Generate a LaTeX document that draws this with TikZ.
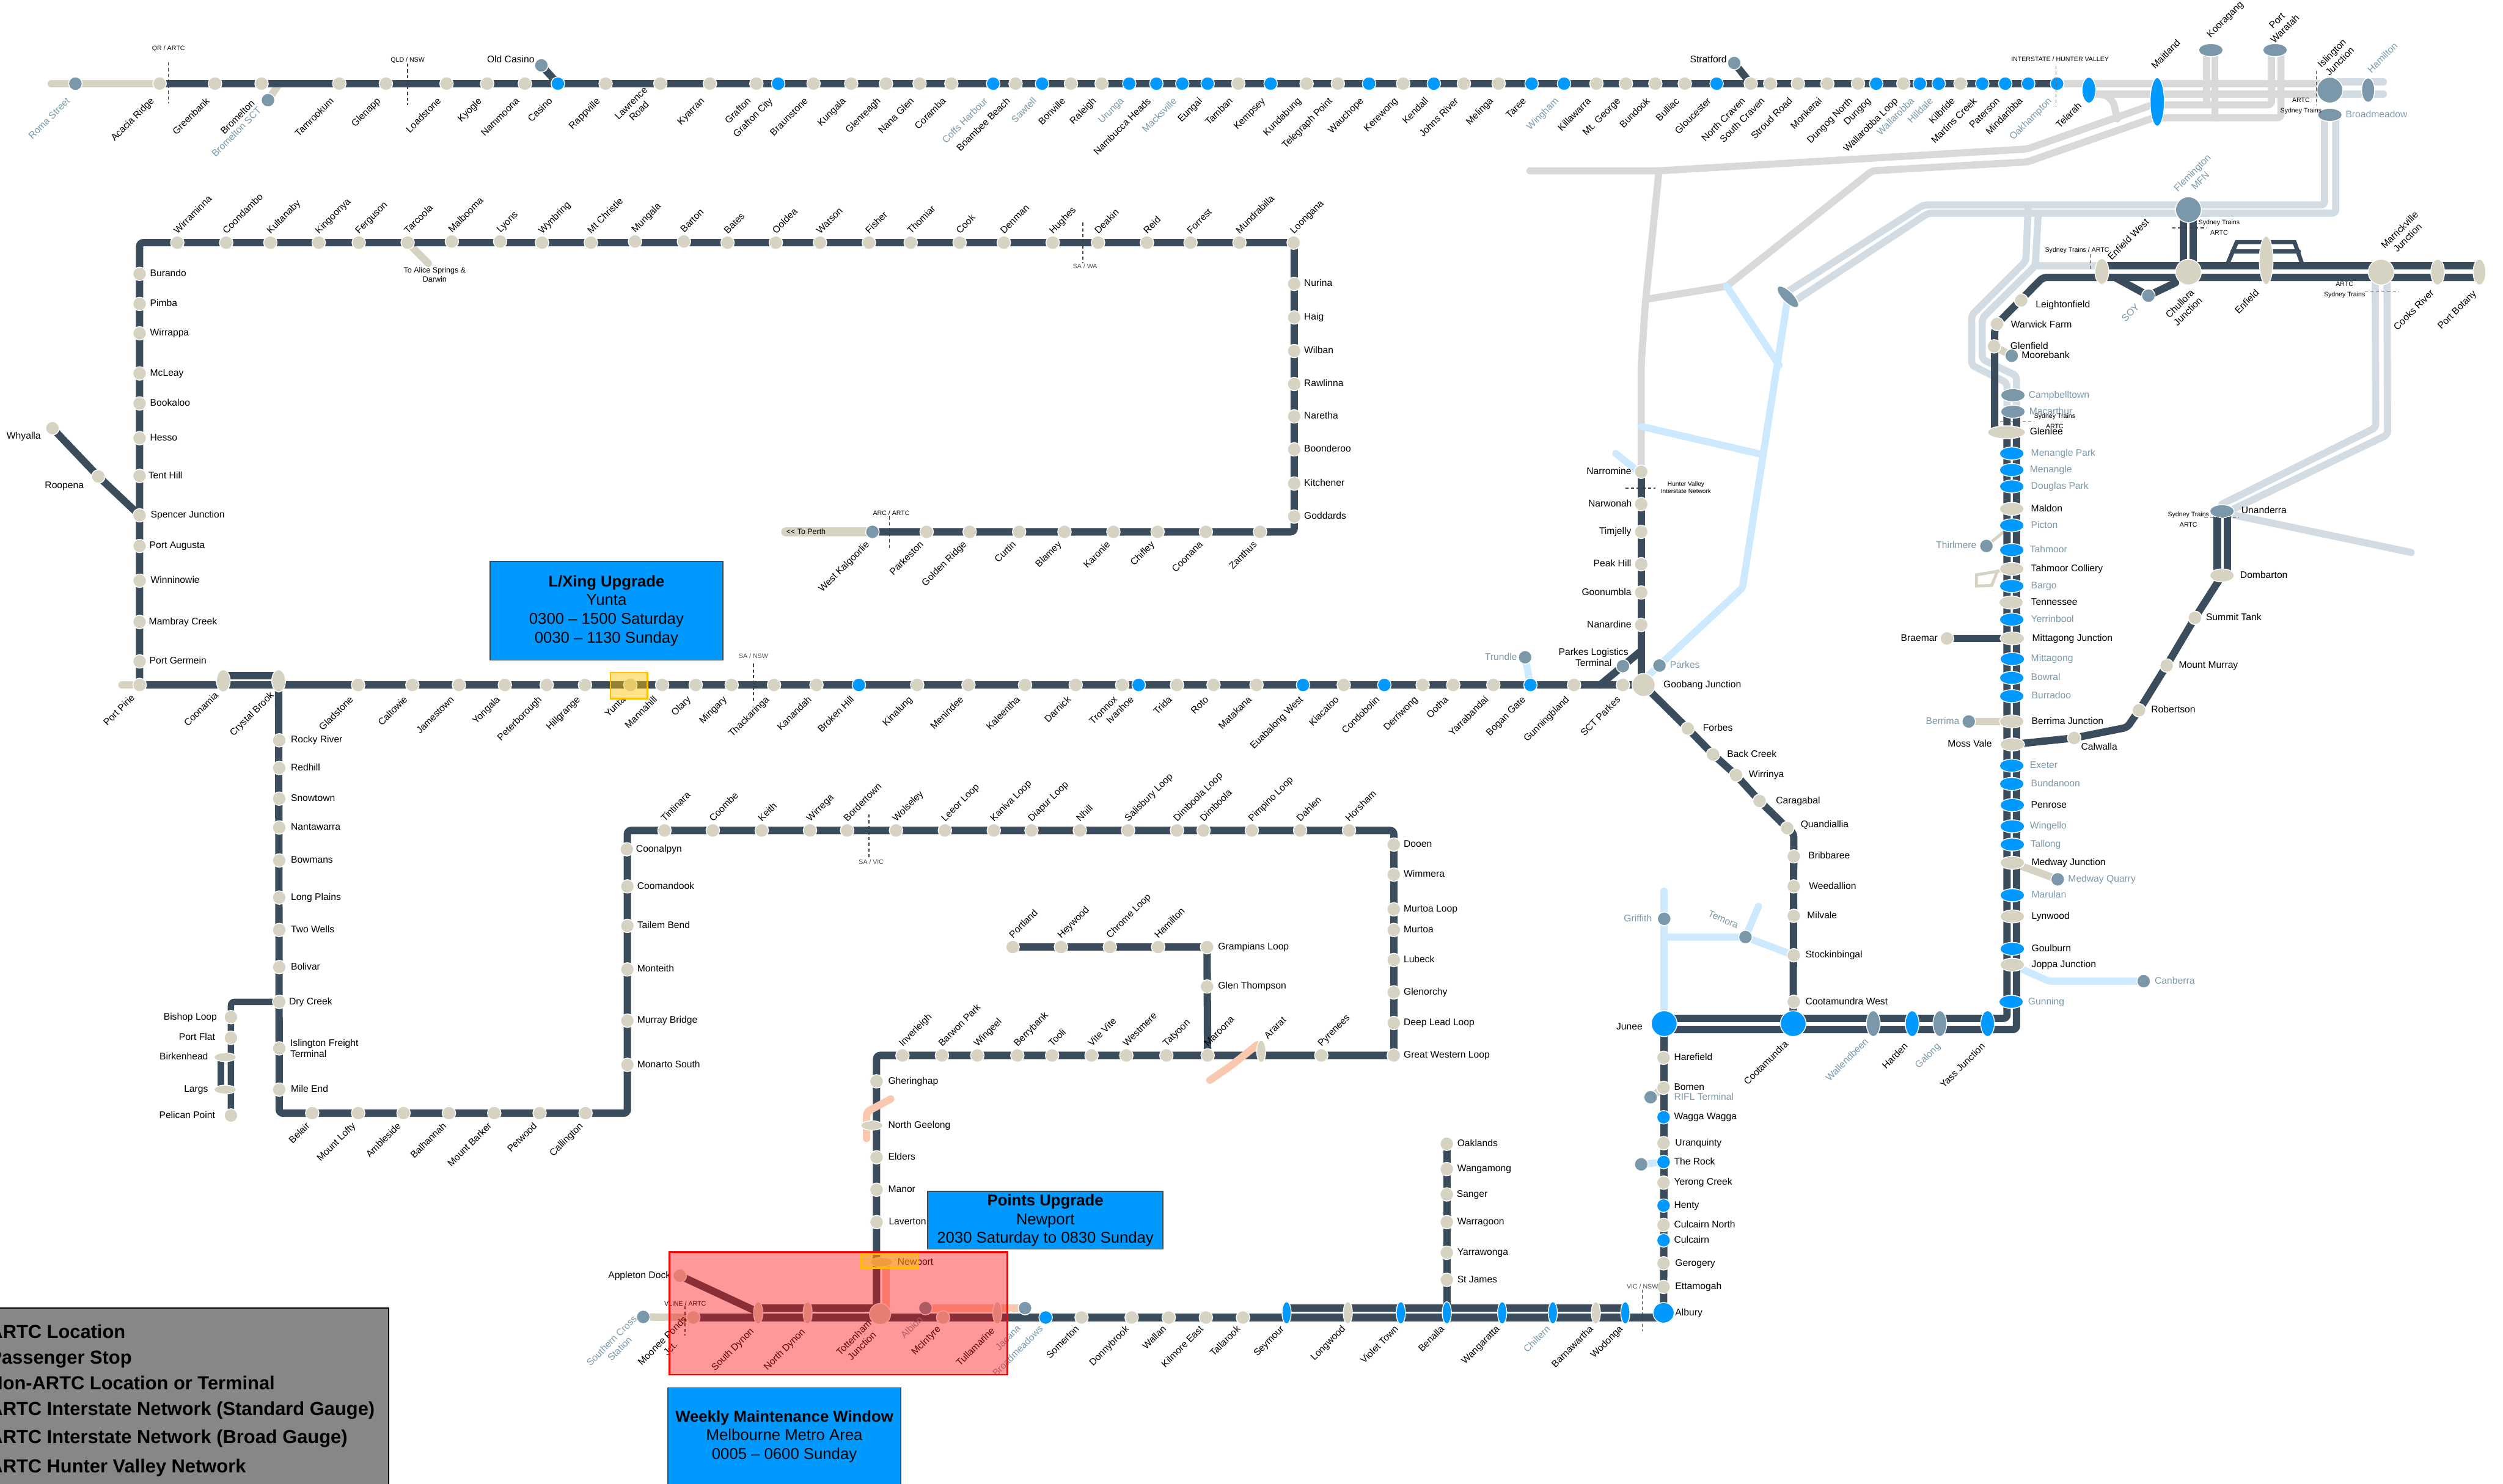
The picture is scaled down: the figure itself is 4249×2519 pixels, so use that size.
\documentclass[tikz,border=0pt]{standalone}
\usepackage{fontspec}
\setmainfont{Liberation Sans}
\usetikzlibrary{shapes.geometric,calc}
\definecolor{darkc}{HTML}{3B4D5C}
\definecolor{khaki}{HTML}{D6D3C2}
\definecolor{slatec}{HTML}{7A98AA}
\definecolor{bluec}{HTML}{0099FF}
\definecolor{palec}{HTML}{D3DCE3}
\definecolor{greyc}{HTML}{D9D9D9}
\definecolor{skyc}{HTML}{CCE9FF}
\definecolor{peach}{HTML}{F9C8AE}
\pgfdeclarelayer{tracks}
\pgfsetlayers{tracks,main}
\tikzset{
  st/.style={ellipse,draw=white,line width=.35pt,inner sep=0pt,minimum width=5.5pt,minimum height=5.5pt},
  kh/.style={fill=khaki}, bl/.style={fill=bluec}, sl/.style={fill=slatec},
  hz/.style={minimum width=10pt,minimum height=5.3pt},
  vt/.style={minimum width=5.6pt,minimum height=10.5pt},
  vn/.style={minimum width=3.7pt,minimum height=9.1pt},
  vm/.style={minimum width=5.6pt,minimum height=9.1pt},
  bg/.style={minimum width=10.5pt,minimum height=10.5pt},
  lab0/.style={inner sep=0pt,font=\fontsize{3.9}{4.6}\selectfont},
  lab/.style={lab0,text height=2.9pt,text depth=.8pt},
  labm/.style={lab0,align=center},
  lk/.style={text=black}, ls/.style={text=slatec},
  tiny/.style={inner sep=0pt,font=\fontsize{2.64}{3.2}\selectfont,align=center},
  trk/.style={draw=darkc,line width=3pt,rounded corners=1.5pt,line cap=round},
  gy/.style={draw=greyc,line width=2.9pt,rounded corners=1.5pt,line cap=round},
  pl/.style={draw=palec,line width=2.9pt,rounded corners=1.5pt,line cap=round},
  kk/.style={draw=khaki,line width=3pt,rounded corners=1.5pt,line cap=round},
  sk/.style={draw=skyc,line width=2.9pt,rounded corners=1pt,line cap=round},
  pc/.style={draw=peach,line width=3pt,rounded corners=1.5pt,line cap=round},
  bnd/.style={draw=black!75,line width=.35pt,dash pattern=on 1.3pt off 1pt},
  callout/.style={rectangle,fill=bluec,draw=darkc,line width=.4pt,inner sep=0pt,align=center,
     font=\fontsize{6.4}{7.68}\selectfont},
  legt/.style={inner sep=0pt,anchor=west,font=\fontsize{7.68}{9}\selectfont\bfseries},
}
\newcommand{\ldx}{-11}\newcommand{\ldy}{27}
\newcommand{\ndx}{-3}\newcommand{\ndy}{-17}
\newcommand{\stO}[4]{\node[st,#2] (#1) at (#3,#4) {};}
\newcommand{\stSW}[6][lk]{\node[st,#3] (#2) at (#4,#5) {};
  \node[lab,#1,rotate=45,anchor=east] (#2t) at (#4+\ldx,#5+\ldy) {#6};}
\newcommand{\stNE}[6][lk]{\node[st,#3] (#2) at (#4,#5) {};
  \node[lab,#1,rotate=45,anchor=west] (#2t) at (#4+\ndx,#5+\ndy) {#6};}
\newcommand{\stE}[7][lk]{\node[st,#3] (#2) at (#4,#5) {};
  \node[lab,#1,anchor=west] (#2t) at (#6,#5) {#7};}
\newcommand{\stW}[7][lk]{\node[st,#3] (#2) at (#4,#5) {};
  \node[lab,#1,anchor=east] (#2t) at (#6,#5) {#7};}
\begin{document}
\begin{tikzpicture}[x=0.24pt,y=-0.24pt]
\useasboundingbox (0,0) rectangle (4249,2519);

% ---------- Row 1: Brisbane to Hunter
\renewcommand{\ldx}{-11}\renewcommand{\ldy}{27}
\stSW[ls]{roma}{sl}{128}{142}{Roma Street}
\stSW{acacia}{kh}{271}{142}{Acacia Ridge}
\stSW{greenbank}{kh}{365}{142}{Greenbank}
\stSW[lk,xshift=-.5pt,yshift=-1pt]{bromelton}{kh}{444}{142}{Bromelton}
\stSW{tamrookum}{kh}{576}{142}{Tamrookum}
\stSW{glenapp}{kh}{655}{142}{Glenapp}
\stSW{loadstone}{kh}{758}{142}{Loadstone}
\stSW{kyogle}{kh}{827}{142}{Kyogle}
\stSW{nammoona}{kh}{891}{142}{Nammoona}
\stSW{casino}{bl}{947}{142}{Casino}
\stSW{rappville}{kh}{1028}{142}{Rappville}
\stO{lawrence}{kh}{1121}{142}
\node[labm,rotate=45] (lawrencet) at (1078,182) {Lawrence\\Road};
\stSW{kyarran}{kh}{1205}{142}{Kyarran}
\stSW{grafton}{kh}{1284}{142}{Grafton}
\stSW{graftonc}{bl}{1321}{142}{Grafton City}
\stSW{braunstone}{kh}{1381}{142}{Braunstone}
\stSW{kungala}{kh}{1445}{142}{Kungala}
\stSW{glenreagh}{kh}{1504}{142}{Glenreagh}
\stSW{nanaglen}{kh}{1561}{142}{Nana Glen}
\stSW{coramba}{kh}{1615}{142}{Coramba}
\stSW[ls]{coffs}{bl}{1686}{142}{Coffs Harbour}
\stSW{boambee}{kh}{1724}{142}{Boambee Beach}
\stSW[ls]{sawtell}{bl}{1769}{142}{Sawtell}
\stSW{bonville}{kh}{1818}{142}{Bonville}
\stSW{raleigh}{kh}{1870}{142}{Raleigh}
\stSW[ls]{urunga}{bl}{1917}{142}{Urunga}
\stSW{nambucca}{bl}{1963}{142}{Nambucca Heads}
\stSW[ls]{macksville}{bl}{2007}{142}{Macksville}
\stSW{eungai}{bl}{2050}{142}{Eungai}
\stSW{tamban}{kh}{2102}{142}{Tamban}
\stSW{kempsey}{bl}{2157}{142}{Kempsey}
\stSW{kundabung}{kh}{2218}{142}{Kundabung}
\stSW{telegraph}{kh}{2271}{142}{Telegraph Point}
\stSW{wauchope}{bl}{2324}{142}{Wauchope}
\stSW{kerewong}{kh}{2382}{142}{Kerewong}
\stSW{kendall}{bl}{2434}{142}{Kendall}
\stSW{johnsriver}{kh}{2485}{142}{Johns River}
\stSW{melinga}{kh}{2544}{142}{Melinga}
\stSW{taree}{bl}{2600}{142}{Taree}
\stSW[ls]{wingham}{bl}{2655}{142}{Wingham}
\stSW{killawarra}{kh}{2710}{142}{Killawarra}
\stSW{mtgeorge}{kh}{2760}{142}{Mt. George}
\stSW{bundook}{kh}{2810}{142}{Bundook}
\stSW{bulliac}{kh}{2860}{142}{Bulliac}
\stSW{gloucester}{bl}{2914}{142}{Gloucester}
\stSW{ncraven}{kh}{2972}{142}{North Craven}
\stSW{scraven}{kh}{3005}{142}{South Craven}
\stSW{stroud}{kh}{3052}{142}{Stroud Road}
\stSW{monkerai}{kh}{3102}{142}{Monkerai}
\stSW{dungogn}{kh}{3154}{142}{Dungog North}
\stSW{dungog}{bl}{3185}{142}{Dungog}
\stSW{wallaloop}{kh}{3231}{142}{Wallarobba Loop}
\stSW[ls]{wallarobba}{bl}{3259}{142}{Wallarobba}
\stSW[ls]{hilldale}{bl}{3291}{142}{Hilldale}
\stSW{kilbride}{kh}{3328}{142}{Kilbride}
\stSW{martins}{bl}{3365}{142}{Martins Creek}
\stSW{paterson}{bl}{3404}{142}{Paterson}
\stSW{mindaribba}{bl}{3443}{142}{Mindaribba}
\stSW[ls]{oakhampton}{bl}{3492}{142}{Oakhampton}
\stO{telarah}{bl,vt}{3546}{153}
\node[lab,rotate=45,anchor=east] (telaraht) at (3532,177) {Telarah};
\stO{maitland}{bl,minimum width=5.8pt,minimum height=19.8pt}{3662}{173}
\node[lab,rotate=45,anchor=west] (maitlandt) at (3655,115) {Maitland};
\stO{kooragang}{sl,hz}{3753}{85}
\node[lab,rotate=45,anchor=west] (kooragangt) at (3749,62) {Kooragang};
\stO{portwaratah}{sl,hz}{3862}{85}
\node[labm,rotate=45] (portwaratahtext) at (3872,42) {Port\\Waratah};
\stO{islington}{sl,bg}{3955}{153}
\node[labm,rotate=45] (islingtont) at (3965,97) {Islington\\Junction};
\stO{hamilton}{sl,minimum width=5.3pt,minimum height=10pt}{4020}{153}
\node[lab,ls,rotate=45,anchor=west] (hamiltont) at (4022,122) {Hamilton};
\stE[ls]{broadmeadow}{sl,hz}{3955}{195}{3981}{Broadmeadow}
\stO{oldcasino}{sl}{919}{111}
\node[lab,anchor=east] (oldcasinot) at (908,102) {Old Casino};
\stO{stratford}{sl}{2944}{107}
\node[lab,anchor=east] (stratfordt) at (2932,102) {Stratford};
\stO{bromsct}{sl}{455}{170}
\node[lab,ls,rotate=45,anchor=east] (bromsctt) at (442,185) {Bromelton SCT};

% ---------- Row 2: Trans-Australian
\renewcommand{\ndx}{-3}\renewcommand{\ndy}{-17}
\stNE{wirraminna}{kh}{301}{412}{Wirraminna}
\stNE{coondambo}{kh}{384}{412}{Coondambo}
\stNE{kultanaby}{kh}{459}{412}{Kultanaby}
\stNE{kingoonya}{kh}{541}{412}{Kingoonya}
\stNE{ferguson}{kh}{609}{412}{Ferguson}
\stNE{tarcoola}{kh}{692}{412}{Tarcoola}
\stNE{malbooma}{kh}{767}{410}{Malbooma}
\stNE{lyons}{kh}{849}{410}{Lyons}
\stNE{wynbring}{kh}{920}{412}{Wynbring}
\stNE{mtchristie}{kh}{1003}{412}{Mt Christie}
\stNE{mungala}{kh}{1078}{410}{Mungala}
\stNE{barton}{kh}{1161}{410}{Barton}
\stNE{bates}{kh}{1235}{412}{Bates}
\stNE{ooldea}{kh}{1317}{412}{Ooldea}
\stNE{watson}{kh}{1392}{412}{Watson}
\stNE{fisher}{kh}{1475}{412}{Fisher}
\stNE{thomiar}{kh}{1546}{412}{Thomiar}
\stNE{cook}{kh}{1629}{412}{Cook}
\stNE{denman}{kh}{1704}{412}{Denman}
\stNE{hughes}{kh}{1787}{412}{Hughes}
\stNE{deakin}{kh}{1864}{412}{Deakin}
\stNE{reid}{kh}{1947}{412}{Reid}
\stNE{forrest}{kh}{2021}{412}{Forrest}
\stNE{mundrabilla}{kh}{2104}{412}{Mundrabilla}
\stNE{loongana}{kh}{2196}{412}{Loongana}
\stE{nurina}{kh}{2197}{482}{2213}{Nurina}
\stE{haig}{kh}{2197}{539}{2213}{Haig}
\stE{wilban}{kh}{2197}{596}{2213}{Wilban}
\stE{rawlinna}{kh}{2197}{652}{2213}{Rawlinna}
\stE{naretha}{kh}{2197}{707}{2213}{Naretha}
\stE{boonderoo}{kh}{2197}{763}{2213}{Boonderoo}
\stE{kitchener}{kh}{2197}{821}{2213}{Kitchener}
\stE{goddards}{kh}{2197}{877}{2213}{Goddards}

% West Kalgoorlie row
\renewcommand{\ldx}{-7}\renewcommand{\ldy}{19}
\stSW{westkal}{sl}{1481}{903}{West Kalgoorlie}
\stSW{parkeston}{kh}{1573}{903}{Parkeston}
\stSW{goldenridge}{kh}{1646}{903}{Golden Ridge}
\stSW{curtin}{kh}{1730}{903}{Curtin}
\stSW{blamey}{kh}{1807}{903}{Blamey}
\stSW{karonie}{kh}{1890}{903}{Karonie}
\stSW{chifley}{kh}{1965}{903}{Chifley}
\stSW{coonana}{kh}{2047}{903}{Coonana}
\stSW{zanthus}{kh}{2139}{903}{Zanthus}
\coordinate (perthend) at (1334,903);
\node[lab0,anchor=west,font=\fontsize{3.1}{3.6}\selectfont] (tperth) at (1334,903) {{<}{<} To Perth};

% West column
\stE{burando}{kh}{237}{465}{254}{Burando}
\stE{pimba}{kh}{237}{516}{254}{Pimba}
\stE{wirrappa}{kh}{237}{566}{254}{Wirrappa}
\stE{mcleay}{kh}{237}{634}{254}{McLeay}
\stE{bookaloo}{kh}{237}{685}{254}{Bookaloo}
\stE{hesso}{kh}{237}{744}{254}{Hesso}
\stE{tenthill}{kh}{237}{808}{251}{Tent Hill}
\stE{spencer}{kh}{237}{875}{255}{Spencer Junction}
\stE{portaugusta}{kh}{237}{927}{253}{Port Augusta}
\stE{winninowie}{kh}{237}{986}{255}{Winninowie}
\stE{mambray}{kh}{237}{1056}{252}{Mambray Creek}
\stE{portgermein}{kh}{237}{1123}{253}{Port Germein}
\stO{whyalla}{kh}{89}{727}
\node[lab,anchor=east] (whyallat) at (70,741) {Whyalla};
\stO{roopena}{kh}{167}{809}
\node[lab,anchor=east] (roopenat) at (143,825) {Roopena};

% ---------- Main row y=1163
\renewcommand{\ldx}{-10}\renewcommand{\ldy}{22}
\stSW[lk,yshift=.7pt]{portpirie}{kh}{237}{1163}{Port Pirie}
\stSW{coonamia}{kh,vm}{379}{1156}{Coonamia}
\stSW{crystal}{kh,vm}{473}{1156}{Crystal Brook}
\stSW{gladstone}{kh}{608}{1163}{Gladstone}
\stSW{caltowie}{kh}{700}{1163}{Caltowie}
\stSW{jamestown}{kh}{779}{1163}{Jamestown}
\stSW{yongala}{kh}{857}{1163}{Yongala}
\stSW{peterborough}{kh}{928}{1163}{Peterborough}
\stSW{hillgrange}{kh}{993}{1163}{Hillgrange}
\stSW{yunta}{kh}{1070}{1163}{Yunta}
\stSW{mannahill}{kh}{1124}{1163}{Mannahill}
\stSW{olary}{kh}{1181}{1163}{Olary}
\stSW{mingary}{kh}{1242}{1163}{Mingary}
\stSW{thackaringa}{kh}{1314}{1163}{Thackaringa}
\stSW{kanandah}{kh}{1386}{1163}{Kanandah}
\stSW{brokenhill}{bl}{1458}{1163}{Broken Hill}
\stSW{kinalung}{kh}{1557}{1163}{Kinalung}
\stSW{menindee}{kh}{1644}{1163}{Menindee}
\stSW{kaleentha}{kh}{1740}{1163}{Kaleentha}
\stSW{darnick}{kh}{1826}{1163}{Darnick}
\stSW{tronnox}{kh}{1905}{1163}{Tronnox}
\stSW{ivanhoe}{bl}{1933}{1163}{Ivanhoe}
\stSW{trida}{kh}{1998}{1163}{Trida}
\stSW{roto}{kh}{2060}{1163}{Roto}
\stSW{matakana}{kh}{2133}{1163}{Matakana}
\stSW[lk,xshift=2pt]{euabalong}{bl}{2212}{1163}{Euabalong West}
\stSW{kiacatoo}{kh}{2281}{1163}{Kiacatoo}
\stSW{condobolin}{bl}{2350}{1163}{Condobolin}
\stSW{derriwong}{kh}{2415}{1163}{Derriwong}
\stSW{ootha}{kh}{2467}{1163}{Ootha}
\stSW{yarrabandai}{kh}{2535}{1163}{Yarrabandai}
\stSW{bogangate}{bl}{2598}{1163}{Bogan Gate}
\stSW{gunningbland}{kh}{2672}{1163}{Gunningbland}
\stSW[lk,xshift=1pt]{sctparkes}{kh}{2755}{1163}{SCT Parkes}
\stE{goobang}{kh,minimum width=9.4pt,minimum height=9.4pt}{2790}{1163}{2823}{Goobang Junction}
\stW{narromine}{kh}{2786}{801}{2770}{Narromine}
\stW{narwonah}{kh}{2786}{856}{2771}{Narwonah}
\stW{timjelly}{kh}{2786}{903}{2770}{Timjelly}
\stW{peakhill}{kh}{2786}{958}{2770}{Peak Hill}
\stW{goonumbla}{kh}{2786}{1006}{2770}{Goonumbla}
\stW{nanardine}{kh}{2786}{1061}{2770}{Nanardine}
\stO{parkeslog}{sl}{2755}{1131}
\node[labm] (parkeslogt) at (2705,1116) {Parkes Logistics\\Terminal};
\stW[ls]{trundle}{sl}{2589}{1116}{2576}{Trundle}
\stE[ls]{parkes}{sl}{2817}{1130}{2834}{Parkes}

% ---------- Goobang to Cootamundra
\stE{forbes}{kh}{2865}{1237}{2890}{Forbes}
\stE{backcreek}{kh}{2908}{1281}{2931}{Back Creek}
\stE{wirrinya}{kh}{2947}{1316}{2968}{Wirrinya}
\stE{caragabal}{kh}{2987}{1360}{3014}{Caragabal}
\stO{quandialla}{kh}{3034}{1406}
\node[lab,anchor=west] (quandiallat) at (3056,1401) {Quandiallia};
\stE{bribbaree}{kh}{3045}{1454}{3069}{Bribbaree}
\stE{weedallion}{kh}{3045}{1505}{3070}{Weedallion}
\stE{milvale}{kh}{3045}{1555}{3067}{Milvale}
\stE{stockinbingal}{kh}{3045}{1622}{3064}{Stockinbingal}
\stE{cootwest}{kh}{3045}{1701}{3064}{Cootamundra West}
\stO{cootamundra}{bl,bg}{3044}{1738}
\node[lab,rotate=45,anchor=east] (cootamundrat) at (3034,1770) {Cootamundra};
\stO{junee}{bl,bg}{2825}{1738}
\node[lab,anchor=east] (juneet) at (2789,1744) {Junee};
\stO{wallendbeen}{sl,vt}{3180}{1738}
\node[lab,ls,rotate=45,anchor=east] (wallendbeent) at (3170,1766) {Wallendbeen};
\stO{harden}{bl,vt}{3246}{1738}
\node[lab,rotate=45,anchor=east] (hardent) at (3237,1774) {Harden};
\stO{galong}{sl,vt}{3293}{1738}
\node[lab,ls,rotate=45,anchor=east] (galongt) at (3292,1774) {Galong};
\stO{yass}{bl,vt}{3374}{1738}
\node[lab,rotate=45,anchor=east] (yasst) at (3368,1774) {Yass Junction};
\stW[ls]{griffith}{sl}{2825}{1560}{2805}{Griffith}
\stO{temora}{sl}{2963}{1591}
\node[lab,ls,rotate=-24] (temorat) at (2925,1562) {Temora};
\coordinate (griffithtop) at (2825,1513);
\coordinate (griffithj) at (2825,1591);
\coordinate (temoratop) at (2985,1539);

% ---------- Southern main line to Albury
\stE{harefield}{kh}{2824}{1796}{2841}{Harefield}
\stE{bomen}{kh}{2824}{1847}{2841}{Bomen}
\stE[ls]{rifl}{sl}{2802}{1863}{2841}{RIFL Terminal}
\stE{wagga}{bl}{2824}{1897}{2841}{Wagga Wagga}
\stE{uranquinty}{kh}{2824}{1941}{2843}{Uranquinty}
\stE{therock}{bl}{2824}{1973}{2841}{The Rock}
\stE{yerong}{kh}{2824}{2008}{2841}{Yerong Creek}
\stE{henty}{bl}{2824}{2047}{2841}{Henty}
\stE{culcairnn}{kh}{2824}{2080}{2841}{Culcairn North}
\stE{culcairn}{bl}{2824}{2106}{2841}{Culcairn}
\stE{gerogery}{kh}{2824}{2145}{2843}{Gerogery}
\stE{ettamogah}{kh}{2824}{2185}{2843}{Ettamogah}
\stO{rockbranch}{sl}{2786}{1977}
\stE{albury}{bl,minimum width=8.6pt,minimum height=8.4pt}{2824}{2229}{2843}{Albury}

% ---------- Sydney south line
\stE[ls]{campbelltown}{sl,hz}{3417}{671}{3443}{Campbelltown}
\stE[ls]{macarthur}{sl,hz}{3417}{699}{3444}{Macarthur}
\stE{glenlee}{kh,minimum width=15.4pt,minimum height=5.3pt}{3406}{734}{3445}{Glenlee}
\stE[ls]{menanglep}{bl,hz}{3415}{770}{3447}{Menangle Park}
\stE[ls]{menangle}{bl,hz}{3415}{798}{3445}{Menangle}
\stE[ls]{douglas}{bl,hz}{3415}{826}{3447}{Douglas Park}
\stE{maldon}{kh,hz}{3415}{864}{3447}{Maldon}
\stE[ls]{picton}{bl,hz}{3415}{892}{3447}{Picton}
\stE[ls]{tahmoor}{bl,hz}{3415}{934}{3445}{Tahmoor}
\stE{tahmoorc}{kh,hz}{3415}{966}{3447}{Tahmoor Colliery}
\stE[ls]{bargo}{bl,hz}{3415}{995}{3447}{Bargo}
\stE{tennessee}{kh,hz}{3414}{1023}{3447}{Tennessee}
\stE[ls]{yerrinbool}{bl,hz}{3415}{1052}{3447}{Yerrinbool}
\stE{mittagongj}{kh,hz}{3416}{1084}{3449}{Mittagong Junction}
\stE[ls]{mittagong}{bl,hz}{3416}{1119}{3447}{Mittagong}
\stE[ls]{bowral}{bl,hz}{3415}{1151}{3447}{Bowral}
\stE[ls]{burradoo}{bl,hz}{3415}{1182}{3448}{Burradoo}
\stE{berrimaj}{kh,hz}{3415}{1225}{3448}{Berrima Junction}
\stW{mossvale}{kh,hz}{3416}{1264}{3382}{Moss Vale}
\stE[ls]{exeter}{bl,hz}{3415}{1300}{3445}{Exeter}
\stE[ls]{bundanoon}{bl,hz}{3415}{1331}{3447}{Bundanoon}
\stE{penrose}{bl,hz}{3416}{1367}{3447}{Penrose}
\stE[ls]{wingello}{bl,hz}{3416}{1403}{3445}{Wingello}
\stE[ls]{tallong}{bl,hz}{3416}{1434}{3446}{Tallong}
\stE{medway}{kh,hz}{3416}{1465}{3448}{Medway Junction}
\stE[ls]{marulan}{bl,hz}{3416}{1520}{3448}{Marulan}
\stE{lynwood}{kh,hz}{3416}{1556}{3448}{Lynwood}
\stE{goulburn}{bl,hz}{3416}{1611}{3448}{Goulburn}
\stE{joppa}{kh,hz}{3416}{1638}{3448}{Joppa Junction}
\stE[ls]{gunning}{bl,hz}{3414}{1701}{3442}{Gunning}
\stW[ls]{thirlmere}{sl}{3372}{927}{3356}{Thirlmere}
\stW{braemar}{kh}{3305}{1084}{3290}{Braemar}
\stW[ls]{berrima}{sl}{3342}{1225}{3327}{Berrima}
\stE[ls]{medwayq}{sl}{3493}{1493}{3510}{Medway Quarry}
\stE[ls]{canberra}{sl}{3639}{1666}{3657}{Canberra}
\coordinate (canb1) at (3478,1666);
\stO{calwalla}{kh}{3521}{1253}
\node[lab,anchor=west] (calwallat) at (3532,1269) {Calwalla};
\coordinate (calbend) at (3611,1235);
\stE{robertson}{kh}{3631}{1206}{3651}{Robertson}
\stE{mountmurray}{kh}{3678}{1130}{3698}{Mount Murray}
\stE{summit}{kh}{3726}{1049}{3744}{Summit Tank}
\stE{dombarton}{kh,hz}{3772}{977}{3802}{Dombarton}
\stE{unanderra}{sl,hz}{3772}{868}{3804}{Unanderra}

% ---------- Sydney metro
\stO{warwick}{kh}{3390}{550}
\node[lab,anchor=west] (warwickt) at (3413,552) {Warwick Farm};
\stO{leighton}{kh}{3431}{510}
\node[lab,anchor=west] (leightont) at (3455,518) {Leightonfield};
\stE{glenfield}{kh}{3385}{588}{3412}{Glenfield}
\stE{moorebank}{sl}{3415}{604}{3431}{Moorebank}
\stO{enfieldw}{kh,vt}{3568}{461}
\node[lab,rotate=45,anchor=west] (enfieldwt) at (3581,440) {Enfield West};
\stO{chullora}{kh,bg}{3715}{462}
\node[labm,rotate=45] (chullorat) at (3707,522) {Chullora\\Junction};
\stO{enfield}{kh,minimum width=5.6pt,minimum height=19.8pt}{3847}{442}
\node[lab,rotate=45,anchor=east] (enfieldt) at (3833,495) {Enfield};
\stO{marrick}{kh,bg}{4042}{462}
\node[labm,rotate=45] (marrickt) at (4080,397) {Marrickville\\Junction};
\stO{cooks}{kh,vt}{4138}{462}
\node[lab,rotate=45,anchor=east] (cookst) at (4130,495) {Cooks River};
\stO{botany}{kh,vt,minimum width=5.2pt}{4209}{462}
\node[lab,rotate=45,anchor=east] (botanyt) at (4202,496) {Port Botany};
\stO{soy}{sl}{3647}{502}
\node[lab,ls,rotate=45,anchor=east] (soyt) at (3630,519) {SOY};
\stO{flemington}{sl,bg}{3715}{356}
\node[labm,rotate=45,text=slatec] (flemingtont) at (3728,300) {Flemington\\MFN};
\node[st,sl,minimum width=4.5pt,minimum height=11.5pt,rotate=45] (hvend) at (3035,504) {};

% ---------- Row 3, Adelaide - Melbourne
\renewcommand{\ndx}{-3}\renewcommand{\ndy}{-17}
\stNE{tintinara}{kh}{1128}{1410}{Tintinara}
\stNE{coombe}{kh}{1210}{1410}{Coombe}
\stNE{keith}{kh}{1293}{1410}{Keith}
\stNE{wirrega}{kh}{1375}{1410}{Wirrega}
\stNE{bordertown}{kh}{1438}{1410}{Bordertown}
\stNE{wolseley}{kh}{1521}{1410}{Wolseley}
\stNE{leeor}{kh}{1604}{1410}{Leeor Loop}
\stNE{kaniva}{kh}{1687}{1410}{Kaniva Loop}
\stNE{diapur}{kh}{1751}{1410}{Diapur Loop}
\stNE{nhill}{kh}{1833}{1410}{Nhill}
\stNE{salisbury}{kh}{1915}{1410}{Salisbury Loop}
\stNE{dimboolal}{kh}{1998}{1410}{Dimboola Loop}
\stNE{dimboola}{kh}{2043}{1410}{Dimboola}
\stNE{pimpino}{kh}{2125}{1410}{Pimpino Loop}
\stNE{dahlen}{kh}{2207}{1410}{Dahlen}
\stNE{horsham}{kh}{2290}{1410}{Horsham}
\stE{coonalpyn}{kh}{1064}{1442}{1079}{Coonalpyn}
\stE{coomandook}{kh}{1065}{1505}{1081}{Coomandook}
\stE{tailem}{kh}{1065}{1572}{1081}{Tailem Bend}
\stE{monteith}{kh}{1065}{1646}{1081}{Monteith}
\stE{murray}{kh}{1065}{1733}{1081}{Murray Bridge}
\stE{monarto}{kh}{1065}{1808}{1081}{Monarto South}
\stE{dooen}{kh}{2366}{1434}{2382}{Dooen}
\stE{wimmera}{kh}{2366}{1485}{2382}{Wimmera}
\stE{murtoal}{kh}{2366}{1544}{2382}{Murtoa Loop}
\stE{murtoa}{kh}{2366}{1579}{2382}{Murtoa}
\stE{lubeck}{kh}{2366}{1630}{2382}{Lubeck}
\stE{glenorchy}{kh}{2366}{1685}{2382}{Glenorchy}
\stE{deeplead}{kh}{2366}{1737}{2382}{Deep Lead Loop}
\stE{greatwest}{kh}{2366}{1792}{2382}{Great Western Loop}
% Row 4
\stNE{inverleigh}{kh}{1532}{1792}{Inverleigh}
\stNE{barwon}{kh}{1599}{1792}{Barwon Park}
\stNE{wingeel}{kh}{1659}{1792}{Wingeel}
\stNE{berrybank}{kh}{1727}{1792}{Berrybank}
\stNE{tooli}{kh}{1786}{1792}{Tooli}
\stNE{vitevite}{kh}{1853}{1792}{Vite Vite}
\stNE{westmere}{kh}{1912}{1792}{Westmere}
\stNE{tatyoon}{kh}{1980}{1792}{Tatyoon}
\stNE{maroona}{kh}{2050}{1792}{Maroona}
\stO{ararat}{kh,vn}{2141}{1785}
\node[lab,rotate=45,anchor=west] (arararatt) at (2149,1762) {Ararat};
\stNE{pyrenees}{kh}{2243}{1792}{Pyrenees}
\stNE{portland}{kh}{1719}{1608}{Portland}
\stNE{heywood}{kh}{1801}{1608}{Heywood}
\stNE{chrome}{kh}{1884}{1608}{Chrome Loop}
\stNE{hamiltonv}{kh}{1966}{1608}{Hamilton}
\stE{grampians}{kh}{2049}{1608}{2067}{Grampians Loop}
\stE{glenthompson}{kh}{2049}{1675}{2067}{Glen Thompson}
\stE{gheringhap}{kh}{1488}{1836}{1507}{Gheringhap}
\stE{ngeelong}{kh,minimum width=9pt,minimum height=3.8pt}{1480}{1911}{1507}{North Geelong}
\stE{elders}{kh}{1488}{1965}{1507}{Elders}
\stE{manor}{kh}{1488}{2020}{1507}{Manor}
\stE{laverton}{kh}{1488}{2075}{1508}{Laverton}
\stE{newport}{kh,minimum width=9pt,minimum height=3.8pt}{1496}{2143}{1523}{Newport}

% South Australia south column
\stE{rocky}{kh}{474}{1257}{493}{Rocky River}
\stE{redhill}{kh}{474}{1304}{493}{Redhill}
\stE{snowtown}{kh}{474}{1356}{493}{Snowtown}
\stE{nantawarra}{kh}{474}{1405}{493}{Nantawarra}
\stE{bowmans}{kh}{474}{1461}{493}{Bowmans}
\stE{longplains}{kh}{474}{1524}{493}{Long Plains}
\stE{twowells}{kh}{474}{1579}{493}{Two Wells}
\stE{bolivar}{kh}{474}{1642}{493}{Bolivar}
\stE{drycreek}{kh}{474}{1701}{490}{Dry Creek}
\stO{islingtonf}{kh}{474}{1780}
\node[labm,align=left,anchor=west] (islingtonft) at (492,1780) {Islington Freight\\Terminal};
\stE{mileend}{kh}{474}{1850}{493}{Mile End}
\stW{bishop}{kh}{392}{1727}{369}{Bishop Loop}
\stW{portflat}{kh}{392}{1762}{366}{Port Flat}
\stW{birkenhead}{kh,minimum width=9pt,minimum height=3.6pt}{382}{1795}{354}{Birkenhead}
\stW{largs}{kh,minimum width=9pt,minimum height=3.6pt}{382}{1850}{354}{Largs}
\stW{pelican}{kh}{392}{1894}{366}{Pelican Point}
\renewcommand{\ldx}{-6}\renewcommand{\ldy}{19}
\stSW{belair}{kh}{530}{1890}{Belair}
\stSW{mountlofty}{kh}{608}{1890}{Mount Lofty}
\stSW{ambleside}{kh}{685}{1890}{Ambleside}
\stSW{balhannah}{kh}{762}{1890}{Balhannah}
\stSW{mountbarker}{kh}{839}{1890}{Mount Barker}
\stSW{petwood}{kh}{916}{1890}{Petwood}
\stSW{callington}{kh}{994}{1890}{Callington}

% ---------- Melbourne and NE Victoria
\renewcommand{\ldx}{-6}\renewcommand{\ldy}{17}
\stO{southerncross}{sl}{1092}{2236}
\node[labm,rotate=45,text=slatec] (southerncrosst) at (1045,2283) {Southern Cross\\Station};
\stO{moonee}{kh}{1177}{2237}
\node[labm,rotate=45] (mooneet) at (1131,2283) {Moonee Ponds\\Jct.};
\stW{appleton}{kh}{1154}{2166}{1139}{Appleton Dock}
\stO{sdynon}{kh,vn}{1287}{2229}
\node[lab,rotate=45,anchor=east] (sdynont) at (1278,2258) {South Dynon};
\stO{ndynon}{kh,vn}{1371}{2229}
\node[lab,rotate=45,anchor=east] (ndynont) at (1365,2259) {North Dynon};
\stO{tottenham}{kh,minimum width=8.6pt,minimum height=8.6pt}{1494}{2231}
\node[labm,rotate=45] (tottenhamt) at (1456,2278) {Tottenham\\Junction};
\stSW[ls]{albion}{sl}{1571}{2221}{Albion}
\stSW{mcintyre}{kh}{1601}{2237}{McIntyre}
\stO{tullamarine}{kh,vn}{1693}{2229}
\node[lab,rotate=45,anchor=east] (tullamarinet) at (1687,2257) {Tullamarine};
\stO{jacana}{sl}{1740}{2221}
\node[lab,ls,rotate=45,anchor=east] (jacanat) at (1731,2253) {Jacana};
\stSW[ls]{broadmeadows}{bl}{1775}{2237}{Broadmeadows}
\stSW{somerton}{kh}{1836}{2237}{Somerton}
\stSW{donnybrook}{kh}{1921}{2237}{Donnybrook}
\stSW{wallan}{kh}{1984}{2237}{Wallan}
\stSW{kilmore}{kh}{2047}{2237}{Kilmore East}
\stSW{tallarook}{kh}{2110}{2237}{Tallarook}
\renewcommand{\ldx}{-6}\renewcommand{\ldy}{25}
\stSW{seymour}{bl,vn}{2184}{2229}{Seymour}
\stSW{longwood}{kh,vn}{2288}{2229}{Longwood}
\stSW{violet}{bl,vn}{2378}{2229}{Violet Town}
\stSW{benalla}{bl,vn}{2456}{2229}{Benalla}
\stSW{wangaratta}{bl,vn}{2550}{2229}{Wangaratta}
\stSW[ls]{chiltern}{bl,vn}{2636}{2229}{Chiltern}
\stSW{barnawartha}{kh,vn}{2709}{2229}{Barnawartha}
\stSW{wodonga}{bl,vn}{2759}{2229}{Wodonga}
\stE{oaklands}{kh}{2456}{1942}{2473}{Oaklands}
\stE{wangamong}{kh}{2456}{1985}{2473}{Wangamong}
\stE{sanger}{kh}{2456}{2028}{2472}{Sanger}
\stE{warragoon}{kh}{2456}{2075}{2473}{Warragoon}
\stE{yarrawonga}{kh}{2456}{2127}{2473}{Yarrawonga}
\stE{stjames}{kh}{2456}{2173}{2473}{St James}

% ---------- Boundary marks
\node[tiny] (qrl) at (286,83) {QR / ARTC};
\node[tiny] (qldl) at (692,102) {QLD / NSW};
\node[tiny,text=black!70] (sawal) at (1842,452) {SA / WA};
\node[tiny] (arcl) at (1513,871) {ARC / ARTC};
\node[tiny,text=black!70] (sansw) at (1279,1114) {SA / NSW};
\node[tiny,text=black!70] (savic) at (1479,1463) {SA / VIC};
\node[tiny] (vlinel) at (1163,2213) {VLINE / ARTC};
\node[tiny,text=black!70] (vicnsw) at (2788,2184) {VIC / NSW};
\node[tiny] (ivhv) at (3497,100) {INTERSTATE / HUNTER VALLEY};
\node[tiny] (artcst) at (3906,180) {ARTC\\[1pt]Sydney Trains};
\node[tiny] (stflem) at (3767,386) {Sydney Trains\\[1pt]ARTC};
\node[tiny] (stenf) at (3526,425) {Sydney Trains / ARTC};
\node[tiny] (artcmar) at (3980,492) {ARTC\\[1pt]Sydney Trains};
\node[tiny] (stglen) at (3488,715) {Sydney Trains\\[1pt]ARTC};
\node[tiny] (stunan) at (3715,882) {Sydney Trains\\[1pt]ARTC};
\node[tiny,font=\fontsize{2.52}{3}\selectfont] (hvin) at (2862,828) {Hunter Valley\\Interstate Network};
\node[lab0,align=center,font=\fontsize{3.12}{3.84}\selectfont] (alice) at (738,466) {To Alice Springs \&\\Darwin};

% ---------- Tracks
\begin{pgfonlayer}{tracks}
% grey Hunter Valley
\draw[gy] (3492,142) -- (3955,142);
\draw[gy] (3546,160) -- (3955,160);
\draw[gy,rounded corners=5pt] (3570,160) -- (3585,160) -- (3594,202);
\draw[gy] (3662,178) -- (3856,178) -- (3856,90);
\draw[gy] (3662,200) -- (3872,200) -- (3872,90);
\draw[gy] (3746,90) -- (3746,178);
\draw[gy] (3760,90) -- (3760,200);
\draw[gy] (3662,175) -- (3441,253) -- (2816,290) -- (2597,290);
\draw[gy] (3662,198) -- (3441,275) -- (3178,290) -- (2931,486) -- (2795,508);
\draw[gy] (2816,292) -- (2793,515) -- (2786,620) -- (2786,801);
% pale network
\draw[pl] (3955,139) -- (4046,139);
\draw[pl] (3955,160) -- (4046,160);
\draw[pl] (3946,195) -- (3946,348) -- (3265,348) -- (3030,498);
\draw[pl] (3965,195) -- (3965,362) -- (3273,362) -- (3045,512);
\draw[pl] (3460,362) -- (3455,451) -- (3365,540) -- (3365,610) -- (3423,638) -- (3423,699);
\draw[pl] (3455,451) -- (3568,451);
\draw[pl] (3443,350) -- (3439,443) -- (3347,535) -- (3347,620) -- (3407,650) -- (3407,699);
\draw[pl] (4032,462) -- (4033,726) -- (3772,856);
\draw[pl] (4052,462) -- (4053,738) -- (3792,864);
\draw[pl] (3790,874) -- (4093,938);
% sky lines
\draw[sk] (2931,486) -- (3020,620);
\draw[sk] (3035,504) -- (2993,772) -- (2958,998) -- (2797,1148);
\draw[sk] (2786,724) -- (2993,772);
\draw[sk] (2743,770) -- (2786,805);
\draw[sk] (trundle.center) -- (bogangate.center);
\draw[sk] (griffithtop) -- (griffith.center) -- (griffithj) -- (junee.center);
\draw[sk] (griffithj) -- (temora.center) -- (stockinbingal.center);
\draw[sk] (temora.center) -- (temoratop);
\draw[sk] (rockbranch.center) -- (therock.center);
\draw[sk] (joppa.center) -- (canb1) -- (canberra.center);
% khaki branches
\coordinate (romaend) at (87,142);
\draw[kk] (romaend) -- (acacia.center);
\coordinate (bromfork) at (472,145);
\draw[kk] (bromfork) -- (bromsct.center);
\coordinate (pirieend) at (207,1163);
\draw[kk] (pirieend) -- (portpirie.center);
\coordinate (aliceend) at (727,447);
\draw[kk] (tarcoola.center) -- (aliceend);
\draw[kk,line width=3.8pt,line cap=round] (perthend) -- (westkal.center);
\draw[kk,line width=1.2pt] (thirlmere.center) -- (picton.center);
\draw[kk,line width=1.2pt,rounded corners=0pt,fill=none] (tahmoorc.center) -- (3355,976) -- (3355,995) -- (3381,994) -- (3391,969);
\draw[kk] (berrima.center) -- (berrimaj.center);
\draw[kk] (medway.center) -- (medwayq.center);
\draw[kk] (glenfield.center) -- (moorebank.center);
\draw[kk] (bomen.center) -- (rifl.center);
\draw[kk] (southerncross.center) -- (moonee.center);
% dark
\draw[trk] (acacia.center) -- (oakhampton.center);
\draw[trk] (casino.center) -- (oldcasino.center);
\draw[trk] (ncraven.center) -- (stratford.center);
\coordinate (nw1) at (237,412);
\coordinate (bl1) at (2197,412);
\draw[trk] (portpirie.center) -- (nw1) -- (loongana.center) -- (bl1) -- (2197,903) -- (westkal.center);
\draw[trk] (whyalla.center) -- (roopena.center) -- (spencer.center);
\draw[trk] (portpirie.center) -- (goobang.center);
\draw[trk] ($(coonamia.center)+(0,-9)$) -- ($(crystal.center)+(0,-9)$);
\draw[trk] (473,1163) -- (474,1890) -- (1065,1890) -- (1065,1410) -- (2366,1410) -- (2366,1792) -- (1488,1792) -- (1488,2229);
\draw[trk,line width=2.6pt] (drycreek.center) -- (392,1701) -- (pelican.center);
\draw[trk,line width=2.6pt] (375,1795) -- (375,1850);
\draw[trk] (portland.center) -- (grampians.center) -- (maroona.center);
\draw[trk] (moonee.center) -- (2759,2237) -- (2824,2237);
\draw[trk] (1287,2221) -- (1494,2221);
\draw[trk] (2184,2221) -- (2759,2221);
\draw[trk] (appleton.center) -- (1283,2226);
\draw[trk] (oaklands.center) -- (benalla.center);
\draw[trk] (junee.center) -- (albury.center);
\draw[trk] (narromine.center) -- (2786,1163);
\draw[trk] (2716,1163) -- (2786,1105);
\draw[trk] (goobang.center) -- (forbes.center) -- (backcreek.center) -- (wirrinya.center) -- (caragabal.center) -- (quandialla.center) -- (3045,1415) -- (cootamundra.center);
\draw[trk] (3407,699) -- (3407,1729) -- (2825,1729);
\draw[trk] (3423,699) -- (3423,1748) -- (2825,1748);
\draw[trk] (braemar.center) -- (mittagongj.center);
\draw[trk] (mossvale.center) -- (calwalla.center) -- (calbend) -- (robertson.center) -- (mountmurray.center) -- (summit.center) -- (dombarton.center);
\draw[trk] (3764,868) -- (3764,977);
\draw[trk] (3781,868) -- (3781,977);
\draw[trk] (3568,451) -- (4200,451);
\draw[trk] (4200,471) -- (3468,471) -- (warwick.center) -- (3386,560) -- (3386,734);
\draw[trk] (3590,471) -- (soy.center) -- (3693,480);
\draw[trk] (3706,375) -- (3706,462);
\draw[trk] (3723,375) -- (3723,462);
\draw[trk,line width=1.7pt,rounded corners=0pt] (3780,451) -- (3797,411) -- (3895,411) -- (3909,451);
\draw[trk,line width=1.9pt,rounded corners=0pt] (3790,427) -- (3902,427);
% peach
\draw[pc] (2134,1774) -- (2089,1810) -- (2054,1834);
\draw[pc] (1512,1866) -- (1471,1888) -- (1471,1933);
\draw[pc] (1504,2150) -- (1504,2225);
\draw[pc] (albion.center) -- (jacana.center);
\end{pgfonlayer}

% boundary dashes
\draw[bnd] (286,106) -- (286,175);
\draw[bnd] (692,108) -- (692,178);
\draw[bnd] (1838,378) -- (1838,447);
\draw[bnd] (1510,877) -- (1510,932);
\draw[bnd] (1279,1127) -- (1279,1192);
\draw[bnd] (1475,1383) -- (1475,1455);
\draw[bnd] (1163,2218) -- (1163,2268);
\draw[bnd] (2788,2190) -- (2788,2260);
\draw[bnd] (3490,112) -- (3490,181);
\draw[bnd] (3932,120) -- (3932,178);
\draw[bnd] (3688,387) -- (3746,387);
\draw[bnd] (3548,432) -- (3548,458);
\draw[bnd] (4014,494) -- (4072,494);
\draw[bnd] (3395,716) -- (3453,716);
\draw[bnd] (3742,878) -- (3800,878);
\draw[bnd] (2759,829) -- (2810,829);

% Callouts
\node[callout,minimum width=94.8pt,minimum height=40.3pt] (lxing) at (1029.5,1037) {\textbf{L/Xing Upgrade}\\Yunta\\0300 – 1500 Saturday\\0030 – 1130 Sunday};
\node[callout,minimum width=95.8pt,minimum height=23.5pt] (points) at (1774.5,2072) {\textbf{Points Upgrade}\\Newport\\2030 Saturday to 0830 Sunday};
\node[callout,minimum width=94.8pt,minimum height=39.8pt] (weekly) at (1331.5,2439) {\textbf{Weekly Maintenance Window}\\Melbourne Metro Area\\0005 – 0600 Sunday};

% Highlights
\draw[draw=red,fill=red,fill opacity=.4,line width=.7pt] (1136,2126) rectangle (1710,2334);
\draw[draw=orange!50!yellow,fill=orange!50!yellow,fill opacity=.45,line width=.6pt] (1462,2129) rectangle (1558,2153);
\draw[draw=orange!50!yellow,fill=orange!50!yellow,fill opacity=.45,line width=.6pt] (1036,1142) rectangle (1099,1186);

% Legend
\node[rectangle,draw=black,line width=.5pt,fill=black!47,minimum width=163pt,minimum height=78pt,anchor=north west,inner sep=0pt] (legend) at (-20,2220) {};
\node[legt] (leg1) at (-19,2261) {ARTC Location};
\node[legt] (leg2) at (-19,2308) {Passenger Stop};
\node[legt] (leg3) at (-19,2348) {Non-ARTC Location or Terminal};
\node[legt] (leg4) at (-19,2395) {ARTC Interstate Network (Standard Gauge)};
\node[legt] (leg5) at (-19,2443) {ARTC Interstate Network (Broad Gauge)};
\node[legt] (leg6) at (-19,2492) {ARTC Hunter Valley Network};
\end{tikzpicture}
\end{document}
